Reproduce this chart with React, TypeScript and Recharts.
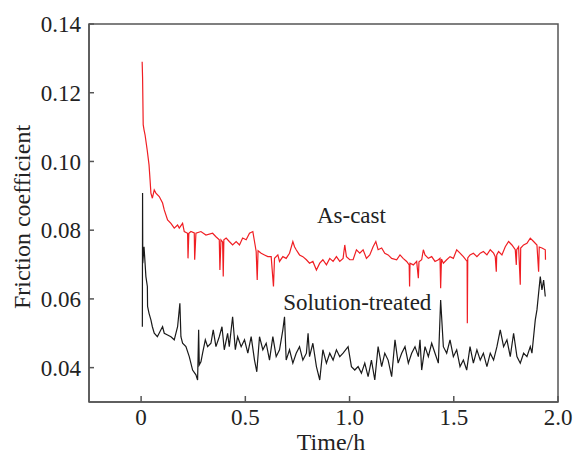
import React from 'react';
import { LineChart, Line, XAxis, YAxis, ReferenceArea, ReferenceDot, Label } from 'recharts';

const xTicks = [0, 0.5, 1.0, 1.5, 2.0];
const yTicks = [0.04, 0.06, 0.08, 0.10, 0.12, 0.14];

// As-cast: [time (h), friction coefficient]
const asCast: [number, number][] = [
  [0.005,0.129],[0.007,0.1246],[0.010,0.1107],[0.014,0.1092],[0.019,0.1077],[0.029,0.1034],[0.038,0.0990],[0.043,0.0946],[0.047,0.0908],[0.054,0.0893],[0.063,0.0917],[0.071,0.0908],[0.087,0.0898],[0.103,0.0879],[0.111,0.0859],[0.127,0.0830],[0.143,0.0820],[0.159,0.0806],[0.175,0.0815],[0.183,0.0806],[0.199,0.0820],[0.207,0.0796],[0.223,0.0791],[0.225,0.0718],[0.229,0.0791],[0.239,0.0796],[0.255,0.0792],[0.257,0.0714],[0.263,0.0791],[0.287,0.0796],[0.311,0.0786],[0.343,0.0791],[0.359,0.0781],[0.375,0.0772],[0.378,0.0684],[0.383,0.0772],[0.391,0.0766],[0.394,0.0665],[0.397,0.0772],[0.408,0.0777],[0.423,0.0767],[0.439,0.0757],[0.456,0.0767],[0.472,0.0757],[0.487,0.0777],[0.504,0.0772],[0.520,0.0791],[0.536,0.0796],[0.544,0.0767],[0.552,0.0738],[0.557,0.0655],[0.561,0.0740],[0.576,0.0733],[0.592,0.0728],[0.608,0.0723],[0.624,0.0723],[0.635,0.0636],[0.640,0.0718],[0.656,0.0728],[0.664,0.0709],[0.680,0.0723],[0.696,0.0718],[0.712,0.0733],[0.728,0.0767],[0.736,0.0752],[0.744,0.0743],[0.760,0.0728],[0.776,0.0723],[0.793,0.0714],[0.808,0.0704],[0.824,0.0709],[0.841,0.0684],[0.857,0.0704],[0.872,0.0714],[0.889,0.0699],[0.905,0.0718],[0.921,0.0709],[0.937,0.0723],[0.953,0.0709],[0.969,0.0718],[0.977,0.0757],[0.985,0.0723],[1.001,0.0714],[1.017,0.0714],[1.033,0.0743],[1.049,0.0733],[1.065,0.0743],[1.081,0.0718],[1.097,0.0728],[1.113,0.0752],[1.126,0.0767],[1.137,0.0743],[1.154,0.0748],[1.169,0.0733],[1.185,0.0728],[1.202,0.0718],[1.226,0.0714],[1.242,0.0728],[1.257,0.0718],[1.274,0.0709],[1.286,0.0699],[1.288,0.0636],[1.290,0.0704],[1.306,0.0699],[1.322,0.0709],[1.330,0.0660],[1.333,0.0708],[1.346,0.0714],[1.354,0.0743],[1.362,0.0728],[1.378,0.0718],[1.394,0.0723],[1.410,0.0709],[1.426,0.0714],[1.434,0.0718],[1.437,0.0631],[1.441,0.0716],[1.450,0.0704],[1.466,0.0714],[1.482,0.0723],[1.498,0.0718],[1.514,0.0743],[1.530,0.0733],[1.546,0.0723],[1.564,0.0709],[1.565,0.0529],[1.567,0.0719],[1.578,0.0728],[1.594,0.0733],[1.611,0.0723],[1.627,0.0733],[1.642,0.0738],[1.659,0.0728],[1.675,0.0743],[1.691,0.0733],[1.699,0.0723],[1.704,0.0679],[1.706,0.0728],[1.715,0.0738],[1.731,0.0728],[1.747,0.0752],[1.763,0.0767],[1.779,0.0757],[1.795,0.0743],[1.800,0.0699],[1.802,0.0743],[1.811,0.0752],[1.819,0.0641],[1.821,0.0748],[1.835,0.0757],[1.851,0.0762],[1.867,0.0777],[1.883,0.0767],[1.899,0.0757],[1.907,0.0679],[1.910,0.0751],[1.923,0.0748],[1.939,0.0743],[1.940,0.0714],
];

// Solution-treated: [time (h), friction coefficient]
const solutionTreated: [number, number][] = [
  [0.006,0.0519],[0.007,0.0908],[0.008,0.0704],[0.014,0.0752],[0.023,0.0665],[0.030,0.0636],[0.031,0.0578],[0.038,0.0558],[0.047,0.0539],[0.054,0.0519],[0.063,0.0500],[0.078,0.0490],[0.095,0.0510],[0.103,0.0519],[0.111,0.0500],[0.127,0.0495],[0.143,0.0490],[0.159,0.0481],[0.175,0.0519],[0.186,0.0587],[0.191,0.0490],[0.199,0.0471],[0.215,0.0461],[0.231,0.0432],[0.247,0.0393],[0.263,0.0379],[0.271,0.0364],[0.276,0.0510],[0.279,0.0408],[0.287,0.0417],[0.295,0.0442],[0.308,0.0481],[0.319,0.0461],[0.335,0.0471],[0.346,0.0510],[0.359,0.0461],[0.375,0.0490],[0.388,0.0519],[0.399,0.0452],[0.415,0.0500],[0.423,0.0461],[0.439,0.0548],[0.452,0.0452],[0.463,0.0490],[0.480,0.0461],[0.496,0.0481],[0.512,0.0442],[0.528,0.0490],[0.544,0.0422],[0.555,0.0388],[0.568,0.0490],[0.584,0.0452],[0.600,0.0471],[0.616,0.0422],[0.632,0.0490],[0.648,0.0432],[0.664,0.0452],[0.680,0.0510],[0.688,0.0548],[0.696,0.0422],[0.712,0.0452],[0.728,0.0413],[0.744,0.0442],[0.760,0.0461],[0.776,0.0422],[0.793,0.0442],[0.801,0.0500],[0.808,0.0432],[0.824,0.0471],[0.841,0.0403],[0.857,0.0364],[0.872,0.0452],[0.889,0.0413],[0.905,0.0442],[0.921,0.0422],[0.937,0.0452],[0.953,0.0432],[0.969,0.0442],[0.993,0.0461],[1.009,0.0403],[1.025,0.0393],[1.041,0.0403],[1.057,0.0384],[1.073,0.0413],[1.089,0.0374],[1.105,0.0422],[1.121,0.0364],[1.137,0.0461],[1.154,0.0403],[1.169,0.0442],[1.185,0.0422],[1.202,0.0374],[1.218,0.0481],[1.233,0.0413],[1.250,0.0442],[1.266,0.0461],[1.282,0.0413],[1.298,0.0442],[1.314,0.0461],[1.330,0.0432],[1.338,0.0481],[1.346,0.0393],[1.362,0.0461],[1.378,0.0432],[1.394,0.0471],[1.410,0.0442],[1.426,0.0413],[1.437,0.0597],[1.450,0.0461],[1.466,0.0442],[1.482,0.0481],[1.498,0.0432],[1.514,0.0452],[1.530,0.0403],[1.546,0.0422],[1.562,0.0393],[1.578,0.0461],[1.594,0.0413],[1.611,0.0452],[1.627,0.0422],[1.642,0.0442],[1.659,0.0403],[1.675,0.0442],[1.691,0.0422],[1.707,0.0461],[1.723,0.0510],[1.739,0.0461],[1.755,0.0481],[1.771,0.0432],[1.787,0.0500],[1.803,0.0432],[1.819,0.0413],[1.835,0.0442],[1.851,0.0432],[1.867,0.0461],[1.875,0.0442],[1.891,0.0539],[1.899,0.0568],[1.907,0.0617],[1.915,0.0665],[1.923,0.0626],[1.931,0.0655],[1.939,0.0607],
];

const asCastData = asCast.map(([t, v]) => ({ t, v }));
const solutionData = solutionTreated.map(([t, v]) => ({ t, v }));

const FONT = "'Liberation Serif', 'DejaVu Serif', Tinos, 'Times New Roman', Times, serif";
const AXIS = '#555';
const tickStyle = { fill: '#222', fontSize: 23, fontFamily: FONT, style: { fontFamily: FONT } };

export default function App() {
  return (
    <div
      style={{ position: 'absolute', left: 0, top: 0, width: 573, height: 454, background: '#fff', fontFamily: FONT }}
    >
      <LineChart width={573} height={454} margin={{ top: 24, right: 15, bottom: 0, left: 0 }} style={{ fontFamily: FONT }}>
        <XAxis
          dataKey="t"
          type="number"
          domain={[-0.25, 2.0]}
          ticks={xTicks}
          tickFormatter={(v: number) => (v === 0 ? '0' : v.toFixed(1))}
          height={52}
          stroke={AXIS}
          strokeWidth={1.5}
          tickSize={-6}
          tickMargin={13}
          tick={tickStyle}
          allowDataOverflow
        >
          <Label
            content={() => (
              <text x={331} y={450} textAnchor="middle" fontSize={24} style={{ fontFamily: FONT }} fill="#222">
                Time/h
              </text>
            )}
          />
        </XAxis>
        <YAxis
          type="number"
          domain={[0.03, 0.14]}
          ticks={yTicks}
          tickFormatter={(v: number) => v.toFixed(2)}
          width={89}
          stroke={AXIS}
          strokeWidth={1.5}
          tickSize={-5}
          tickMargin={13}
          tick={tickStyle}
          allowDataOverflow
        >
          <Label
            content={() => (
              <text
                x={0}
                y={0}
                transform="translate(30,217) rotate(-90)"
                textAnchor="middle"
                fontSize={24}
                style={{ fontFamily: FONT }}
                fill="#222"
              >
                Friction coefficient
              </text>
            )}
          />
        </YAxis>
        <ReferenceArea x1={-0.25} x2={2.0} y1={0.03} y2={0.14} fill="none" stroke={AXIS} strokeWidth={1.5} />
        <Line
          data={solutionData}
          dataKey="v"
          stroke="#1a1a1a"
          strokeWidth={1.2}
          dot={false}
          isAnimationActive={false}
        />
        <Line
          data={asCastData}
          dataKey="v"
          stroke="#f01e23"
          strokeWidth={1.2}
          dot={false}
          isAnimationActive={false}
        />
        <ReferenceDot
          x={1.009}
          y={0.0844}
          r={1}
          fill="none"
          stroke="none"
          label={{ value: 'As-cast', position: 'center', fontSize: 23, fill: '#222', style: { fontFamily: FONT } }}
        />
        <ReferenceDot
          x={1.037}
          y={0.0592}
          r={1}
          fill="none"
          stroke="none"
          label={{ value: 'Solution-treated', position: 'center', fontSize: 23, fill: '#222', style: { fontFamily: FONT } }}
        />
      </LineChart>
    </div>
  );
}
